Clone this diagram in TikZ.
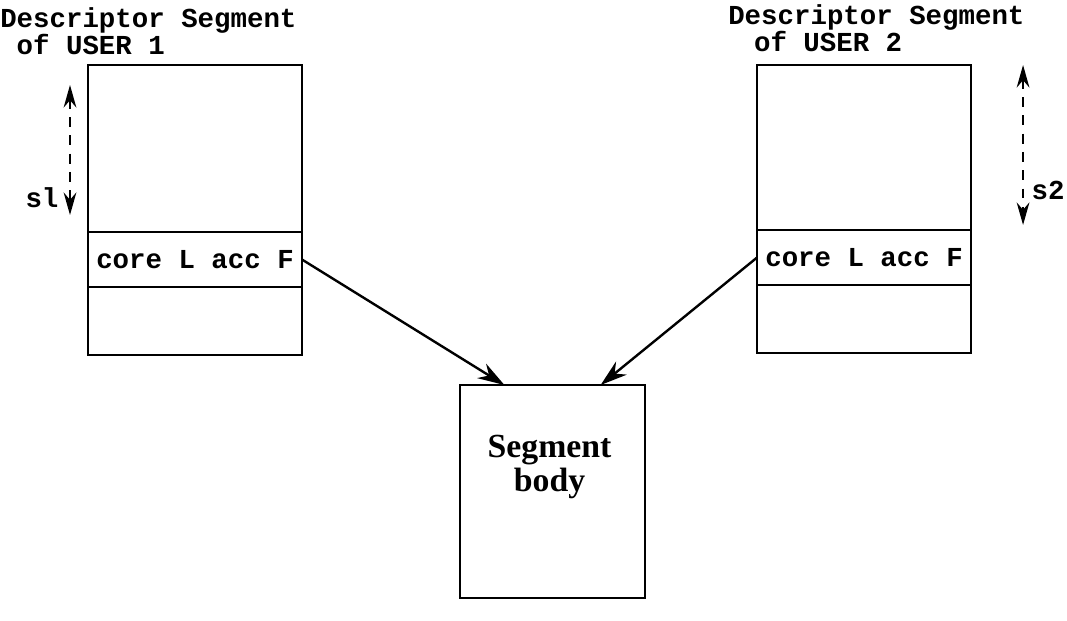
\documentclass[tikz,border=0pt]{standalone}
\usepackage{fontspec}
\setmainfont{Liberation Serif}
\setmonofont{Liberation Mono}
\usetikzlibrary{arrows.meta,positioning,calc}

\begin{document}
\begin{tikzpicture}[
  x=0.025cm, y=-0.025cm,
  cell/.style={draw, line width=1.9pt, minimum width=5.35cm, inner sep=0pt,
    outer sep=0pt, font=\fontsize{19.5}{19.5}\selectfont\ttfamily\bfseries},
  edge/.style={-{Stealth[length=19pt,width=12pt]}, line width=1.7pt},
  dim/.style={{Stealth[length=16pt,width=9pt]}-{Stealth[length=16pt,width=9pt]},
    dash pattern=on 7pt off 6pt, line width=1.9pt},
  lbl/.style={font=\fontsize{19.5}{19.5}\selectfont\ttfamily\bfseries, inner sep=0pt,
    align=left}
]
  \useasboundingbox (0,0) rectangle (1067,620);

  % Descriptor segments
  \node[cell, minimum height=4.175cm, anchor=north west] (u1top) at (88,65) {};
  \node[cell, minimum height=1.375cm, below=0pt of u1top] (u1ent) {core L acc F};
  \node[cell, minimum height=1.7cm, below=0pt of u1ent] (u1bot) {};

  \node[cell, minimum height=4.125cm, anchor=north west] (u2top) at (757,65) {};
  \node[cell, minimum height=1.375cm, below=0pt of u2top] (u2ent) {core L acc F};
  \node[cell, minimum height=1.7cm, below=0pt of u2ent] (u2bot) {};

  % Segment body
  \node[draw, line width=1.9pt, minimum width=4.625cm, minimum height=5.325cm,
    inner sep=0pt, outer sep=0pt, anchor=north west] (body) at (460,385) {};
  \node[font=\fontsize{24}{24}\selectfont\bfseries, align=center, inner sep=0pt]
    (btext) at ($(body.north)+(-3,82)$) {Segment\\body};

  % Titles
  \node[lbl, anchor=north west] (t1) at (0,7) {Descriptor Segment\\\hspace{0.6em}of USER 1};
  \node[lbl, anchor=north west] (t2) at (728,4) {Descriptor Segment\\\hspace{0.94em}of USER 2};

  % Pointers to the body
  \draw[edge] (u1ent.east) -- ($(body.north west)!0.24!(body.north east)$);
  \draw[edge] (u2ent.west) -- ($(body.north west)!0.76!(body.north east)$);

  % Offsets
  \coordinate (s1a) at ($(u1top.north west)+(-18,20)$);
  \coordinate (s1b) at ($(u1top.north west)+(-18,150)$);
  \draw[dim] (s1a) -- (s1b);
  \node[lbl] (s1lbl) at (42,198) {sl};

  \coordinate (s2a) at ($(u2top.north east)+(52,0)$);
  \coordinate (s2b) at ($(u2top.north east)+(52,160)$);
  \draw[dim] (s2a) -- (s2b);
  \node[lbl] (s2lbl) at (1048,190) {s2};
\end{tikzpicture}
\end{document}
